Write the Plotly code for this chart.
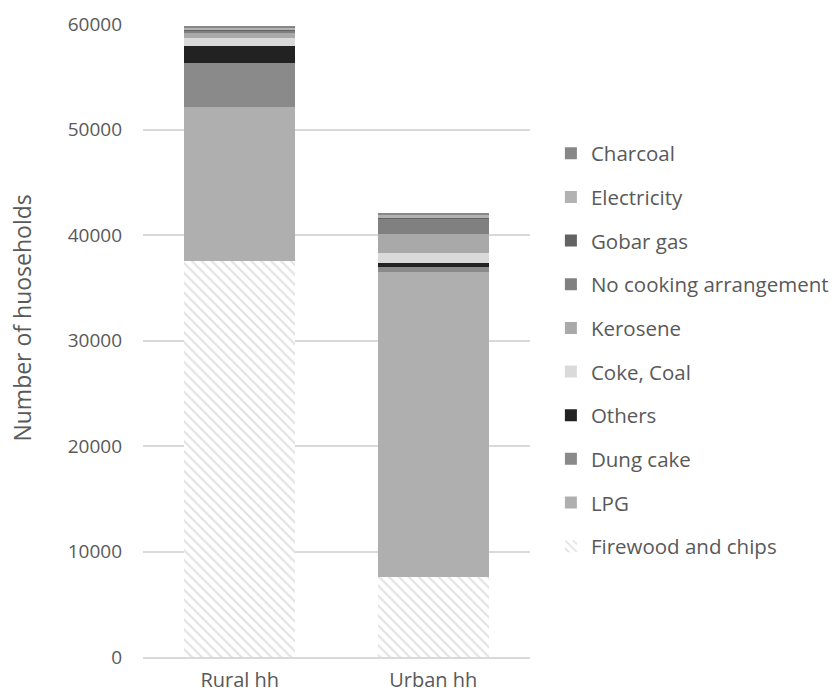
import plotly.graph_objects as go

# Households by cooking fuel, rural vs urban
categories = ["Rural hh", "Urban hh"]
fuels = ["Firewood and chips", "LPG", "Dung cake", "Others", "Coke, Coal",
         "Kerosene", "No cooking arrangement", "Gobar gas", "Electricity", "Charcoal"]
firewood = [37550, 7610]
lpg = [14580, 28910]
dung_cake = [4170, 420]
others = [1610, 380]
coke_coal = [735, 945]
kerosene = [595, 1800]
no_cooking = [150, 1520]
gobar_gas = [120, 30]
electricity = [140, 330]
charcoal = [95, 60]
y_ticks = [0, 10000, 20000, 30000, 40000, 50000, 60000]

series = [firewood, lpg, dung_cake, others, coke_coal, kerosene,
          no_cooking, gobar_gas, electricity, charcoal]
colors = ["#ffffff", "#afafaf", "#8a8a8a", "#222222", "#dadada",
          "#a9a9a9", "#808080", "#636363", "#b2b2b2", "#878787"]

TEXT = "#595959"
FONT = "Open Sans"

fig = go.Figure()
n = len(fuels)
for i, (name, vals, col) in enumerate(zip(fuels, series, colors)):
    marker = dict(color=col, line=dict(width=0))
    if i == 0:
        marker["pattern"] = dict(shape="\\", fgcolor="#c4c4c4", bgcolor="#ffffff",
                                 size=7, solidity=0.3)
    # top of the stack is listed first in the legend
    fig.add_trace(go.Bar(x=categories, y=vals, name=name, marker=marker,
                         legendgroup=name, legendrank=n - i))

fig.update_layout(
    barmode="stack",
    bargap=0.425,
    width=837, height=697,
    margin=dict(l=143, r=307, t=24, b=40, autoexpand=False),
    paper_bgcolor="white", plot_bgcolor="white",
    font=dict(family=FONT, size=20, color=TEXT),
    showlegend=True,
    legend=dict(traceorder="grouped", tracegroupgap=14,
                x=1.054, xanchor="left", y=0.485, yanchor="middle",
                font=dict(family=FONT, size=20.5, color=TEXT),
                itemwidth=30),
    xaxis=dict(showline=True, linecolor="#d9d9d9", linewidth=1.5,
               ticks="", ticklabelstandoff=4,
               tickfont=dict(size=20, color=TEXT)),
    yaxis=dict(range=[0, 60000], tickvals=y_ticks, tickformat="d",
               showgrid=True, gridcolor="#d9d9d9", gridwidth=1.5,
               zeroline=False, showline=False, ticks="", ticklen=0,
               ticklabelstandoff=20,
               tickfont=dict(size=19, color=TEXT)),
    annotations=[dict(text="Number of huoseholds", textangle=-90,
                      xref="paper", yref="paper", x=-0.313, y=0.536,
                      xanchor="center", yanchor="middle", showarrow=False,
                      font=dict(family=FONT, size=23, color=TEXT))],
)

fig.write_html("out.html")
